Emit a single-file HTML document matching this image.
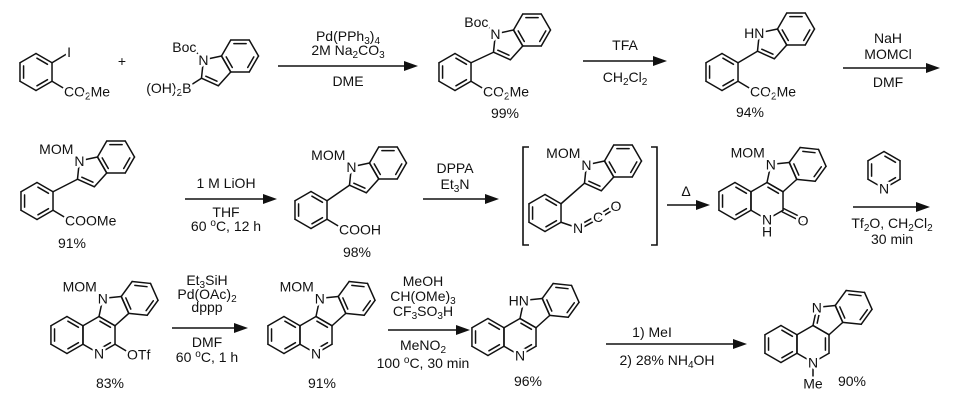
<!DOCTYPE html>
<html><head><meta charset="utf-8"><style>
body{margin:0;background:#fff}
svg{display:block}
text{font-family:"Liberation Sans",Arial,sans-serif;font-size:14px;fill:#111}
.l{stroke:#fff;stroke-width:5px;paint-order:stroke;stroke-linejoin:round}
#b line{stroke:#111;stroke-width:1.5;stroke-linecap:round}
</style></head><body>
<svg id="s" width="960" height="409" viewBox="0 0 960 409" xmlns="http://www.w3.org/2000/svg">
<g id="b"></g>
<g id="lb"></g>
<g id="st" stroke="#111" stroke-width="1.6" fill="none">
<line x1="278" y1="66" x2="406" y2="66"/><line x1="583" y1="61" x2="655" y2="61"/><line x1="843" y1="68" x2="928" y2="68"/>
<line x1="185" y1="199" x2="265" y2="199"/><line x1="423" y1="199" x2="487" y2="199"/><line x1="667" y1="205" x2="698" y2="205"/>
<line x1="853" y1="207" x2="918" y2="207"/><line x1="172" y1="328" x2="236" y2="328"/><line x1="388" y1="330" x2="458" y2="330"/>
<line x1="606" y1="344" x2="735" y2="344"/>
<polyline points="529,147 523,147 523,245 529,245"/><polyline points="651,147 657,147 657,245 651,245"/>
</g>
<g fill="#111">
<polygon points="418,66 404,61 404,71"/><polygon points="667,61 653,56 653,66"/><polygon points="940,68 926,63 926,73"/>
<polygon points="277,199 263,194 263,204"/><polygon points="499,199 485,194 485,204"/><polygon points="710,205 696,200 696,210"/>
<polygon points="930,207 916,202 916,212"/><polygon points="248,328 234,323 234,333"/><polygon points="470,330 456,325 456,335"/>
<polygon points="747,344 733,339 733,349"/>
</g>
<g text-anchor="middle">
<text x="122" y="66">+</text>
<text x="348" y="41">Pd(PPh<tspan dy="3" font-size="10">3</tspan><tspan dy="-3">)</tspan><tspan dy="3" font-size="10">4</tspan></text>
<text x="348" y="55">2M Na<tspan dy="3" font-size="10">2</tspan><tspan dy="-3">CO</tspan><tspan dy="3" font-size="10">3</tspan></text>
<text x="348" y="86">DME</text>
<text x="625" y="50">TFA</text>
<text x="625" y="82">CH<tspan dy="3" font-size="10">2</tspan><tspan dy="-3">Cl</tspan><tspan dy="3" font-size="10">2</tspan></text>
<text x="888" y="43">NaH</text><text x="888" y="59">MOMCl</text><text x="888" y="87">DMF</text>
<text x="505" y="118">99%</text><text x="750" y="117">94%</text>
<text x="226" y="188">1 M LiOH</text><text x="226" y="217">THF</text>
<text x="226" y="231">60 <tspan dy="-5" font-size="10">o</tspan><tspan dy="5">C, 12 h</tspan></text>
<text x="72" y="248">91%</text><text x="357" y="257">98%</text>
<text x="455" y="173">DPPA</text><text x="455" y="189">Et<tspan dy="3" font-size="10">3</tspan><tspan dy="-3">N</tspan></text>
<text x="686" y="196" font-size="11">Δ</text>
<text x="892" y="228">Tf<tspan dy="3" font-size="10">2</tspan><tspan dy="-3">O, CH</tspan><tspan dy="3" font-size="10">2</tspan><tspan dy="-3">Cl</tspan><tspan dy="3" font-size="10">2</tspan></text>
<text x="892" y="244">30 min</text>
<text x="207" y="285">Et<tspan dy="3" font-size="10">3</tspan><tspan dy="-3">SiH</tspan></text>
<text x="207" y="299">Pd(OAc)<tspan dy="3" font-size="10">2</tspan></text>
<text x="207" y="312">dppp</text><text x="207" y="347">DMF</text>
<text x="207" y="362">60 <tspan dy="-5" font-size="10">o</tspan><tspan dy="5">C, 1 h</tspan></text>
<text x="110" y="388">83%</text><text x="322" y="388">91%</text>
<text x="423" y="286">MeOH</text>
<text x="423" y="301">CH(OMe)<tspan dy="3" font-size="10">3</tspan></text>
<text x="423" y="316">CF<tspan dy="3" font-size="10">3</tspan><tspan dy="-3">SO</tspan><tspan dy="3" font-size="10">3</tspan><tspan dy="-3">H</tspan></text>
<text x="423" y="350">MeNO<tspan dy="3" font-size="10">2</tspan></text>
<text x="423" y="368">100 <tspan dy="-5" font-size="10">o</tspan><tspan dy="5">C, 30 min</tspan></text>
<text x="528" y="386">96%</text>
<text x="652" y="337">1) MeI</text>
<text x="667" y="365">2) 28% NH<tspan dy="3" font-size="10">4</tspan><tspan dy="-3">OH</tspan></text>
<text x="852" y="386">90%</text>
</g>
</svg>
<script>
const NS='http://www.w3.org/2000/svg',GB=document.getElementById('b'),GL=document.getElementById('lb');
const R=18.5,C30=Math.cos(Math.PI/6);
function ln(p,q){const e=document.createElementNS(NS,'line');e.setAttribute('x1',p[0]);e.setAttribute('y1',p[1]);e.setAttribute('x2',q[0]);e.setAttribute('y2',q[1]);GB.appendChild(e);}
function lab(p,html,anchor){const e=document.createElementNS(NS,'text');e.setAttribute('x',p[0]);e.setAttribute('y',p[1]+5);e.setAttribute('text-anchor',anchor||'middle');e.setAttribute('class','l');e.innerHTML=html;GL.appendChild(e);}
function sb(n,rest){return '<tspan dy="3" font-size="10">'+n+'</tspan><tspan dy="-3">'+rest+'</tspan>';}
function add(p,d){return [p[0]+d[0],p[1]+d[1]];}
function ctr(v){let x=0,y=0;v.forEach(p=>{x+=p[0];y+=p[1]});return [x/v.length,y/v.length];}
function hexP(cx,cy){const v=[];for(let k=0;k<6;k++){const a=(-90+60*k)*Math.PI/180;v.push([cx+R*Math.cos(a),cy+R*Math.sin(a)]);}return v;}
function hexF(cx,cy){const v=[];for(let k=0;k<6;k++){const a=(60*k)*Math.PI/180;v.push([cx+R*Math.cos(a),cy+R*Math.sin(a)]);}return v;}
function polyE(a,b,n,away){const th=2*Math.PI/n;let best=null;
 for(const sg of [1,-1]){const v=[a,b];let d=[b[0]-a[0],b[1]-a[1]];
  for(let i=2;i<n;i++){const c=Math.cos(sg*th),sn=Math.sin(sg*th);d=[d[0]*c-d[1]*sn,d[0]*sn+d[1]*c];v.push(add(v[v.length-1],d));}
  const c=ctr(v),dist=(c[0]-away[0])**2+(c[1]-away[1])**2;if(!best||dist>best.d)best={v:v,d:dist};}
 return best.v;}
function inner(p,q,c){const m=[(p[0]+q[0])/2,(p[1]+q[1])/2];let u=[c[0]-m[0],c[1]-m[1]];const L=Math.hypot(u[0],u[1]);u=[u[0]/L*3.6,u[1]/L*3.6];
 const t=0.17;const a=[p[0]+(q[0]-p[0])*t+u[0],p[1]+(q[1]-p[1])*t+u[1]],b=[q[0]+(p[0]-q[0])*t+u[0],q[1]+(p[1]-q[1])*t+u[1]];ln(a,b);}
function ring(v,dbl){const n=v.length,c=ctr(v);for(let i=0;i<n;i++)ln(v[i],v[(i+1)%n]);(dbl||[]).forEach(i=>inner(v[i],v[(i+1)%n],c));}
function dbl2(p,q){const d=[q[0]-p[0],q[1]-p[1]],L=Math.hypot(d[0],d[1]),n=[-d[1]/L*1.8,d[0]/L*1.8];ln(add(p,n),add(q,n));ln(add(p,[-n[0],-n[1]]),add(q,[-n[0],-n[1]]));}
function indole(cx,cy){const h=hexF(cx,cy);ring(h,[0,2,4]);const p=polyE(h[3],h[2],5,[cx,cy]);ring(p,[2]);return {N:p[4],C2:p[3],C3:p[2]};}
function fused(bx,by,bd,pd){const A=hexP(bx-2*R*C30,by),B=hexP(bx,by);ring(A,[0,2,4]);ring(B,bd);
 const p=polyE(B[0],B[1],5,[bx,by]);ring(p,pd);const h=polyE(p[2],p[3],6,ctr(p));ring(h,[0,2,4]);return {B:B,N:p[4]};}
function phen(cx,cy){const v=hexP(cx,cy);ring(v,[0,2,4]);return v;}
function mom(N){const e=add(N,[-9,-11]);ln(N,e);lab(add(e,[3,-1]),'MOM','end');lab(N,'N');}
const CO2Me='CO'+sb('2','Me');

// Row 1
let P=phen(36,72);let e=add(P[1],[15,-9]);ln(P[1],e);lab(add(e,[2,-2]),'I');
e=add(P[2],[15,9]);ln(P[2],e);lab(add(e,[-3,1]),CO2Me,'start');
let I=indole(240,56);e=add(I.N,[-10,-11]);ln(I.N,e);lab(add(e,[3,-2]),'Boc','end');lab(I.N,'N');
e=add(I.C2,[-14,9]);ln(I.C2,e);lab(add(e,[4,1]),'(OH)'+sb('2','B'),'end');
I=indole(532,30);e=add(I.N,[-10,-10]);ln(I.N,e);lab(add(e,[3,-2]),'Boc','end');lab(I.N,'N');
P=phen(455,72);ln(P[1],I.C2);e=add(P[2],[15,9]);ln(P[2],e);lab(add(e,[-3,1]),CO2Me,'start');
I=indole(796,29);lab(add(I.N,[5,0]),'HN','end');
P=phen(722,72);ln(P[1],I.C2);e=add(P[2],[15,9]);ln(P[2],e);lab(add(e,[-3,1]),CO2Me,'start');
// Row 2
I=indole(116,157);mom(I.N);P=phen(37,201);ln(P[1],I.C2);e=add(P[2],[15,9]);ln(P[2],e);lab(add(e,[-3,1]),'COOMe','start');
I=indole(388,163);mom(I.N);P=phen(311,210);ln(P[1],I.C2);e=add(P[2],[15,9]);ln(P[2],e);lab(add(e,[-3,1]),'COOH','start');
I=indole(623,161);mom(I.N);P=phen(545,213);ln(P[1],I.C2);
let Ni=[578,228],Ci=[598,217],Oi=[616,206];ln(P[2],Ni);dbl2(Ni,Ci);dbl2(Ci,Oi);lab(Ni,'N');lab(Ci,'C');lab(Oi,'O');
let F=fused(767,201,[0],[]);mom(F.N);let B=F.B;lab(B[3],'N');lab(add(B[3],[0,12]),'H');
e=add(B[2],[20,10]);dbl2(B[2],e);lab(e,'O');
let Py=phen(884,170);lab(Py[3],'N');
// Row 3
F=fused(99,335,[0,2],[]);mom(F.N);lab(F.B[3],'N');e=add(F.B[2],[15,9]);ln(F.B[2],e);lab(add(e,[-3,1]),'OTf','start');
F=fused(316,335,[0,2],[]);mom(F.N);lab(F.B[3],'N');
F=fused(520,337,[0,2],[]);lab(add(F.N,[5,0]),'HN','end');lab(F.B[3],'N');
F=fused(813,344,[1],[4]);lab(F.N,'N');e=add(F.B[3],[0,18]);ln(F.B[3],e);lab(F.B[3],'N');lab(add(e,[0,3]),'Me');
</script>
</body></html>
